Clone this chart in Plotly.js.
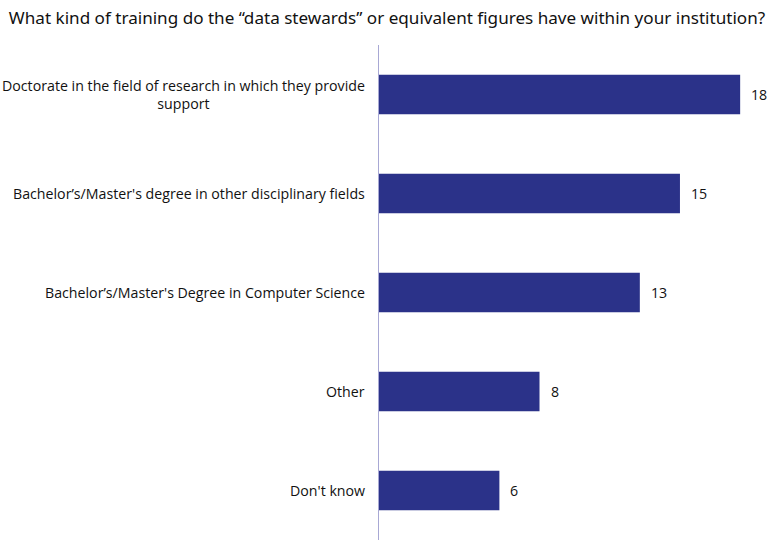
<!DOCTYPE html>
<html>
<head>
<meta charset="utf-8">
<script src="https://cdn.plot.ly/plotly-3.0.1.min.js"></script>
<style>html,body{margin:0;padding:0;background:#fff;}#chart{width:774px;height:548px;}</style>
</head>
<body>
<div id="chart"></div>
<script>
const titleText = 'What kind of training do the “data stewards” or equivalent figures have within your institution?';
const categories = [
  'Doctorate in the field of research in which they provide<br>support',
  'Bachelor’s/Master\'s degree in other disciplinary fields',
  'Bachelor’s/Master\'s Degree in Computer Science',
  'Other',
  'Don\'t know'
];
const values = [18, 15, 13, 8, 6];

const catIds = categories.map((c, i) => 'c' + i);

const trace = {
  type: 'bar',
  orientation: 'h',
  y: catIds,
  x: values,
  marker: {color: '#2B3289'},
  hoverinfo: 'none'
};

const annotations = [];
categories.forEach((c, i) => {
  annotations.push({
    xref: 'paper', yref: 'y', x: 0, y: catIds[i],
    text: c, showarrow: false, xanchor: 'right', align: 'center',
    xshift: -12, font: {family: 'Open Sans, sans-serif', size: 14.2, color: '#111'}
  });
  annotations.push({
    xref: 'x', yref: 'y', x: values[i], y: catIds[i],
    text: String(values[i]), showarrow: false, xanchor: 'left',
    xshift: 9, font: {family: 'Open Sans, sans-serif', size: 14.2, color: '#111'}
  });
});

const layout = {
  width: 774, height: 548,
  margin: {l: 379, r: 20, t: 45, b: 8},
  paper_bgcolor: '#fff', plot_bgcolor: '#fff',
  title: {text: titleText, x: 0.5, xanchor: 'center', xref: 'container', y: 0.968, yanchor: 'middle', yref: 'container',
          font: {family: 'Noto Sans, sans-serif', size: 17.1, color: '#111'}},
  xaxis: {range: [0, 18.69], showgrid: false, zeroline: false, showticklabels: false, showline: false, fixedrange: true},
  yaxis: {type: 'category', autorange: 'reversed', showticklabels: false, showgrid: false,
          showline: true, linecolor: '#A8A8D4', linewidth: 1, ticks: ''},
  bargap: 0.6,
  showlegend: false,
  annotations: annotations
};

Plotly.newPlot('chart', [trace], layout, {staticPlot: true});
</script>
</body>
</html>
